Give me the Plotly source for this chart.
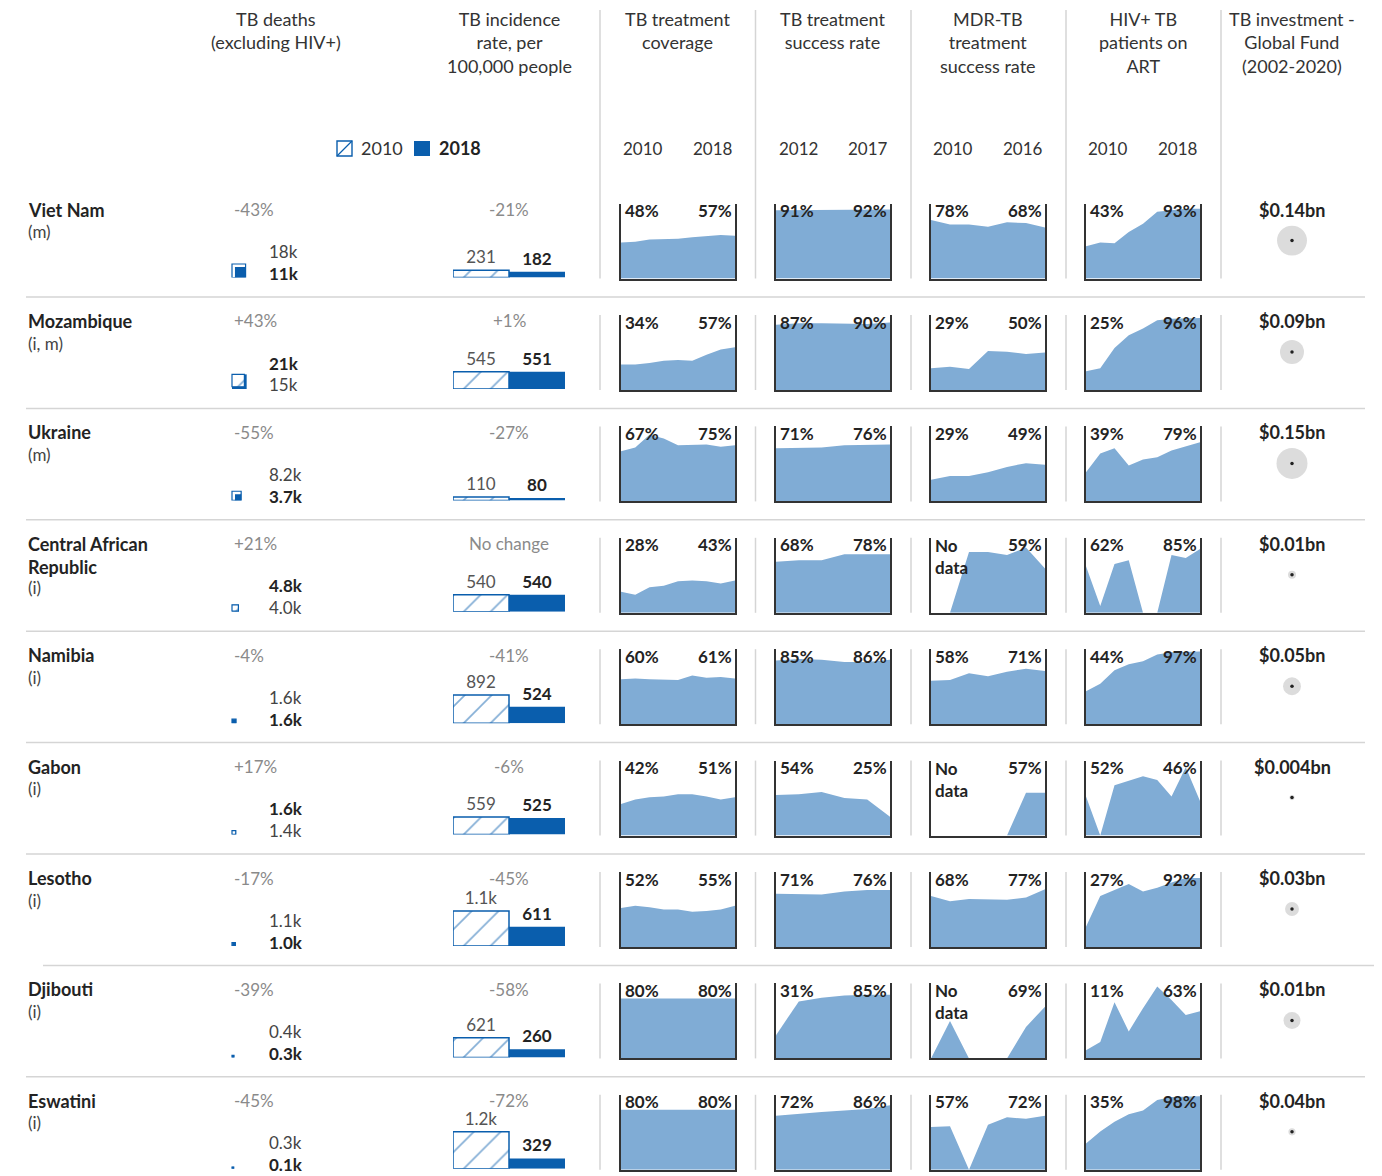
import math
import plotly.graph_objects as go

# ---------------- DATA ----------------
countries = ["Viet Nam", "Mozambique", "Ukraine", "Central African<br>Republic", "Namibia",
             "Gabon", "Lesotho", "Djibouti", "Eswatini"]
notes = ["(m)", "(i, m)", "(m)", "(i)", "(i)", "(i)", "(i)", "(i)", "(i)"]

# TB deaths (excluding HIV+), thousands
deaths_2010 = [18, 15, 8.2, 4.0, 1.6, 1.4, 1.1, 0.4, 0.3]
deaths_2018 = [11, 21, 3.7, 4.8, 1.6, 1.6, 1.0, 0.3, 0.1]
deaths_change = ["-43%", "+43%", "-55%", "+21%", "-4%", "+17%", "-17%", "-39%", "-45%"]

# TB incidence rate per 100,000 people
inc_2010 = [231, 545, 110, 540, 892, 559, 1111, 621, 1175]
inc_2018 = [182, 551, 80, 540, 524, 525, 611, 260, 329]
inc_change = ["-21%", "+1%", "-27%", "No change", "-41%", "-6%", "-45%", "-58%", "-72%"]

# TB treatment coverage, 2010-2018 (%)
cov_years = list(range(2010, 2019))
coverage = [
    [48, 49, 52, 52, 53, 55, 56, 58, 57],
    [34, 34, 36, 39, 40, 39, 47, 54, 57],
    [67, 72, 89, 84, 75, 75, 76, 73, 75],
    [28, 24, 34, 36, 42, 43, 42, 39, 43],
    [60, 61, 60, 60, 59, 65, 62, 63, 61],
    [42, 48, 51, 52, 55, 55, 52, 48, 51],
    [52, 55, 53, 50, 50, 47, 48, 50, 55],
    [80, 80, 80, 80, 80, 80, 80, 80, 80],
    [80, 80, 80, 80, 80, 80, 80, 80, 80],
]

# TB treatment success rate, 2012-2017 (%)
succ_years = list(range(2012, 2018))
success = [
    [91, 91, 92, 92, 92, 92],
    [87, 89, 89, 88, 88, 90],
    [71, 71, 72, 75, 76, 76],
    [68, 70, 70, 78, 78, 78],
    [85, 87, 86, 83, 83, 86],
    [54, 55, 58, 50, 48, 25],
    [71, 70, 70, 74, 76, 76],
    [31, 76, 81, 84, 85, 85],
    [72, 75, 77, 79, 81, 86],
]

# MDR-TB treatment success rate, 2010-2016 (%), None = no data
mdr_years = list(range(2010, 2017))
mdr = [
    [78, 72, 72, 69, 75, 74, 68],
    [29, 31, 28, 52, 51, 48, 50],
    [29, 34, 34, 39, 46, 51, 49],
    [None, None, 81, 81, 77, 87, 59],
    [58, 59, 68, 64, 70, 74, 71],
    [None, None, None, None, None, 57, 57],
    [68, 61, 64, 63, 63, 66, 77],
    [None, 50, None, None, None, 42, 69],
    [57, 58, None, 60, 70, 68, 72],
]

# HIV+ TB patients on ART, 2010-2018 (%)
art_years = list(range(2010, 2019))
art = [
    [43, 48, 47, 62, 73, 89, 91, 93, 93],
    [25, 29, 56, 73, 82, 93, 95, 96, 96],
    [39, 64, 71, 48, 56, 59, 68, 74, 79],
    [62, 9, 65, 70, None, None, 77, 73, 85],
    [44, 54, 72, 80, 84, 93, 96, 97, 97],
    [52, None, 67, 73, 79, 74, 52, 91, 46],
    [27, 68, 76, 84, 74, 79, 86, 92, 92],
    [11, 22, 75, 36, 67, 96, 78, 58, 63],
    [35, 51, 64, 74, 79, 93, 97, 98, 98],
]

# TB investment - Global Fund (2002-2020), $bn
invest_bn = [0.14, 0.09, 0.15, 0.01, 0.05, 0.004, 0.03, 0.01, 0.04]
# value the circle area represents as drawn in the source ($bn)
invest_circle_bn = [0.14, 0.09, 0.15, 0.01, 0.05, 0.004, 0.03, 0.045, 0.008]

headers = ["TB deaths<br>(excluding HIV+)", "TB incidence<br>rate, per<br>100,000 people",
           "TB treatment<br>coverage", "TB treatment<br>success rate",
           "MDR-TB<br>treatment<br>success rate", "HIV+ TB<br>patients on<br>ART",
           "TB investment -<br>Global Fund<br>(2002-2020)"]

# ---------------- STYLE / LAYOUT ----------------
OFF = 8                      # page body margin of the rendered html
W, H = 1382 - OFF, 1176 - OFF
FONT = "Lato"
BLUE = "#0a5ead"
AREA = "#80acd5"
DARK = "#232323"
GREY = "#8a8a8a"
SEP = "#d5d5d5"
ROW0 = 185.6
ROWH = 111.4
PANEL_L = [621, 776, 931, 1086]
PANEL_W = 114
VLINES = [600, 755.5, 911, 1066, 1221]
HEAD_X = [276, 509, 678, 833, 988, 1143, 1292]
INC_PX_PER_UNIT = 0.0315
SQ_K = 3.2
CIRC_K = 80


def px(x):
    return (x - OFF) / W


def py(y):
    return 1 - (y - OFF) / H


fig = go.Figure()
axes = {}
counter = [0]


def new_axes(x0, x1, y_top, y_bot, xr, yr, frame=False):
    counter[0] += 1
    n = counter[0]
    s = "" if n == 1 else str(n)
    common = dict(showgrid=False, zeroline=False, showticklabels=False, ticks="",
                  fixedrange=True, showline=False)
    xa = dict(domain=[px(x0), px(x1)], range=xr, anchor="y" + s, **common)
    ya = dict(domain=[py(y_bot), py(y_top)], range=yr, anchor="x" + s, **common)
    if frame:
        xa.update(showline=True, linecolor="#333333", linewidth=1.6)
        ya.update(showline=True, mirror=True, linecolor="#333333", linewidth=1.6)
    axes["xaxis" + s] = xa
    axes["yaxis" + s] = ya
    return "x" + s, "y" + s


ann = []
shapes = []


def text(x, y, t, size=16, color=DARK, anchor="left", yanchor="middle", bold=False):
    ann.append(dict(x=px(x), y=py(y), xref="paper", yref="paper", text=("<b>%s</b>" % t) if bold else t,
                    showarrow=False, xanchor=anchor, yanchor=yanchor,
                    font=dict(family=FONT, size=size, color=color)))


def kfmt(v):
    return ("%dk" % round(v)) if v >= 10 else ("%.1fk" % v)


def incfmt(v):
    return ("%.1fk" % (v / 1000)) if v >= 1000 else str(int(v))


# header titles
for hx, ht in zip(HEAD_X, headers):
    ann.append(dict(x=px(hx), y=py(6), xref="paper", yref="paper", text=ht, showarrow=False,
                    xanchor="center", yanchor="top", align="center",
                    font=dict(family=FONT, size=18, color="#333333")))

# year labels
for L, yrs in zip(PANEL_L, [cov_years, succ_years, mdr_years, art_years]):
    text(L + 22, 148, str(yrs[0]), size=17, color="#333333", anchor="center")
    text(L + PANEL_W - 22, 148, str(yrs[-1]), size=17, color="#333333", anchor="center")

# legend
shapes.append(dict(type="rect", xref="paper", yref="paper", x0=px(337), x1=px(352), y0=py(156), y1=py(141),
                   line=dict(color=BLUE, width=1.4), fillcolor="white"))
shapes.append(dict(type="line", xref="paper", yref="paper", x0=px(337), x1=px(352), y0=py(156), y1=py(141),
                   line=dict(color=BLUE, width=1.2)))
text(359, 148, "2010", size=18, color="#333333")
shapes.append(dict(type="rect", xref="paper", yref="paper", x0=px(414), x1=px(430), y0=py(156), y1=py(141),
                   line=dict(width=0), fillcolor=BLUE))
text(437, 148, "2018", size=18, color=DARK, bold=True)

# vertical separators in header (continuous into first row)
for vx in VLINES:
    shapes.append(dict(type="line", xref="paper", yref="paper", x0=px(vx), x1=px(vx),
                       y0=py(10), y1=py(ROW0 + 93), line=dict(color=SEP, width=1.5)))

for i, name in enumerate(countries):
    t = ROW0 + ROWH * i
    # row separators
    if i > 0:
        x0s, x1s = (43, 1382) if i == 7 else (26, 1365)
        shapes.append(dict(type="line", xref="paper", yref="paper", x0=px(x0s), x1=px(x1s),
                           y0=py(t), y1=py(t), line=dict(color=SEP, width=1.5)))
        for vx in VLINES:
            shapes.append(dict(type="line", xref="paper", yref="paper", x0=px(vx), x1=px(vx),
                               y0=py(t + 18), y1=py(t + 93), line=dict(color=SEP, width=1.5)))

    # country name + note
    nlines = name.count("<br>") + 1
    ann.append(dict(x=px(26), y=py(t + 11), xref="paper", yref="paper", text="<b>%s</b>" % name,
                    showarrow=False, xanchor="left", yanchor="top", align="left",
                    font=dict(family=FONT, size=18, color=DARK)))
    text(26, t + 24 + 22 * nlines, notes[i], size=17, color="#444444")

    # ---- TB deaths ----
    text(232, t + 24, deaths_change[i], size=17, color=GREY)
    d10, d18 = deaths_2010[i], deaths_2018[i]
    top_is_2018 = d18 > d10
    upper = (kfmt(d18), True) if top_is_2018 else (kfmt(d10), False)
    lower = (kfmt(d10), False) if top_is_2018 else (kfmt(d18), True)
    text(267, t + 66, upper[0], size=17, color=DARK if upper[1] else "#444444", bold=upper[1])
    text(267, t + 88, lower[0], size=17, color=DARK if lower[1] else "#444444", bold=lower[1])

    xa, ya = new_axes(226, 262, t + 62, t + 92, [0, 36], [0, 30])
    s10 = SQ_K * math.sqrt(d10)
    s18 = SQ_K * math.sqrt(d18)
    S = max(s10, s18)
    tr10 = go.Bar(x=[6 + s10 / 2], y=[s10], base=[S - s10], width=[s10], xaxis=xa, yaxis=ya,
                  marker=dict(color="white", line=dict(color=BLUE, width=1.2),
                              pattern=dict(shape="/", fgcolor=BLUE, bgcolor="white", size=14, solidity=0.12)),
                  hoverinfo="skip", showlegend=False)
    tr18 = go.Bar(x=[6 + S - s18 / 2], y=[s18], base=[0], width=[s18], xaxis=xa, yaxis=ya,
                  marker=dict(color=BLUE, line=dict(width=0)), hoverinfo="skip", showlegend=False)
    if s10 >= s18:
        fig.add_trace(tr10); fig.add_trace(tr18)
    else:
        fig.add_trace(tr18); fig.add_trace(tr10)

    # ---- TB incidence ----
    text(509, t + 24, inc_change[i], size=17, color=GREY, anchor="center")
    xa, ya = new_axes(453, 565, t + 22, t + 92, [-0.5, 1.5], [0, 70 / INC_PX_PER_UNIT])
    fig.add_trace(go.Bar(x=[0], y=[inc_2010[i]], width=[1], xaxis=xa, yaxis=ya,
                         marker=dict(color="white", line=dict(color=BLUE, width=1.5),
                                     pattern=dict(shape="/", fgcolor=BLUE, bgcolor="white", size=19, solidity=0.09)),
                         text=[incfmt(inc_2010[i])], textposition="outside", cliponaxis=False,
                         constraintext="none", textfont=dict(family=FONT, size=17, color="#555555"),
                         hoverinfo="skip", showlegend=False))
    fig.add_trace(go.Bar(x=[1], y=[inc_2018[i]], width=[1], xaxis=xa, yaxis=ya,
                         marker=dict(color=BLUE, line=dict(width=0)),
                         text=["<b>%s</b>" % incfmt(inc_2018[i])], textposition="outside", cliponaxis=False,
                         constraintext="none", textfont=dict(family=FONT, size=17, color=DARK),
                         hoverinfo="skip", showlegend=False))

    # ---- small multiples ----
    for L, series in zip(PANEL_L, [coverage[i], success[i], mdr[i], art[i]]):
        n = len(series)
        xa, ya = new_axes(L, L + PANEL_W, t + 18, t + 93, [0, n - 1], [0, 100], frame=True)
        fig.add_trace(go.Scatter(x=list(range(n)), y=[v if v is not None else 0 for v in series],
                                 mode="lines", fill="tozeroy", fillcolor=AREA,
                                 line=dict(width=0, color=AREA), xaxis=xa, yaxis=ya,
                                 hoverinfo="skip", showlegend=False))
        if series[0] is None:
            ann.append(dict(x=px(L + 2), y=py(t + 13), xref="paper", yref="paper", text="<b>No<br>data</b>",
                            showarrow=False, xanchor="left", yanchor="top", align="left",
                            font=dict(family=FONT, size=17, color=DARK)))
        else:
            text(L + 2, t + 25, "%d%%" % series[0], size=17, color=DARK, bold=True)
        text(L + PANEL_W - 1, t + 25, "%d%%" % series[-1], size=17, color=DARK, anchor="right", bold=True)

    # ---- investment ----
    text(1292, t + 24, "$%sbn" % ("%g" % invest_bn[i]), size=18, color=DARK, anchor="center", bold=True)
    xa, ya = new_axes(1262, 1322, t + 25, t + 85, [-1, 1], [-1, 1])
    fig.add_trace(go.Scatter(x=[0], y=[0], mode="markers", xaxis=xa, yaxis=ya,
                             marker=dict(size=CIRC_K * math.sqrt(invest_circle_bn[i]), color="#dcdcdc",
                                         line=dict(width=0)),
                             hoverinfo="skip", showlegend=False))
    fig.add_trace(go.Scatter(x=[0], y=[0], mode="markers", xaxis=xa, yaxis=ya,
                             marker=dict(size=3.5, color="#222222", line=dict(width=0)),
                             hoverinfo="skip", showlegend=False))

fig.update_layout(
    width=W, height=H, margin=dict(l=0, r=0, t=0, b=0),
    paper_bgcolor="white", plot_bgcolor="rgba(0,0,0,0)",
    barmode="overlay", showlegend=False,
    font=dict(family=FONT, color=DARK),
    annotations=ann, shapes=shapes, **axes,
)

fig.write_html("out.html")
